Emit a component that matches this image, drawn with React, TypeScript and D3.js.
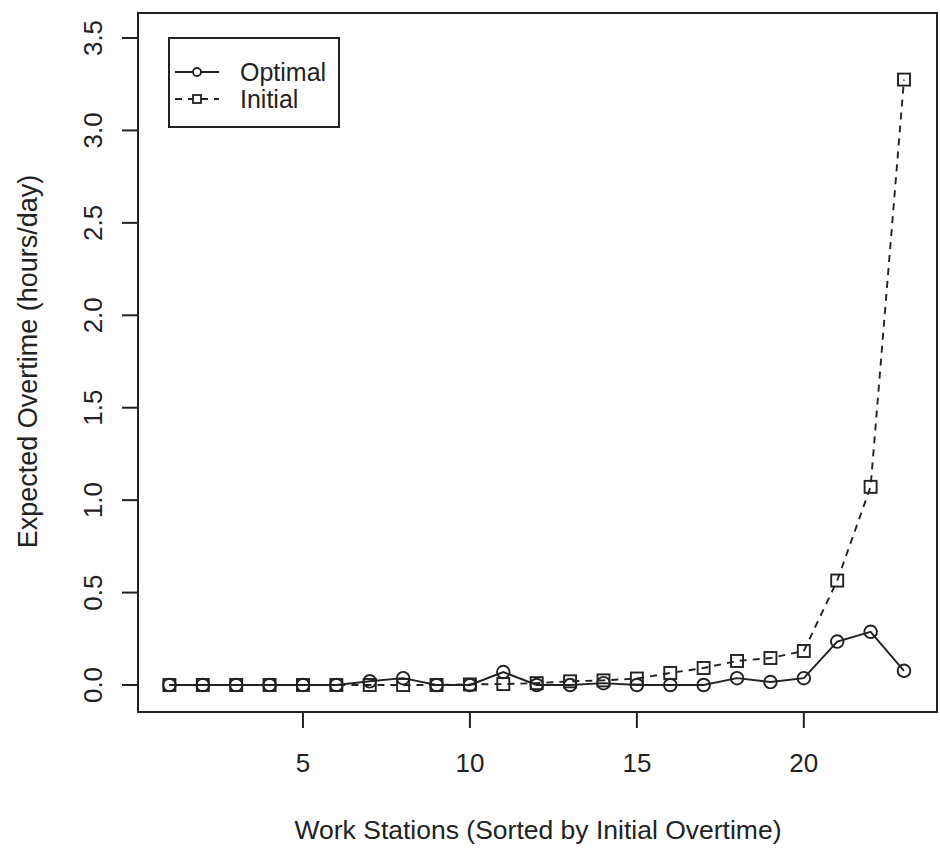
import React from "react";
import * as d3 from "d3";

const stations = d3.range(1, 24);
const optimal = [0, 0, 0, 0, 0, 0, 0.02, 0.037, 0, 0, 0.07, 0, 0, 0.01, 0, 0, 0, 0.037, 0.016, 0.037, 0.235, 0.288, 0.077];
const initial = [0, 0, 0, 0, 0, 0, 0, 0, 0, 0.003, 0.005, 0.01, 0.02, 0.025, 0.035, 0.065, 0.092, 0.13, 0.146, 0.184, 0.565, 1.072, 3.275];
const xTicks = [5, 10, 15, 20];
const yTicks = [0, 0.5, 1, 1.5, 2, 2.5, 3, 3.5];
const seriesNames = ["Optimal", "Initial"];

const W = 940;
const H = 856;
const box = { left: 138, right: 937, top: 13, bottom: 712 };
const FONT = "Liberation Sans, Arial, sans-serif";
const INK = "#222";

export default function App() {
  const x = d3.scaleLinear().domain([1, 23]).range([169.4, 904]);
  const y = d3.scaleLinear().domain([0, 3.5]).range([685, 38]);
  const line = d3
    .line<number>()
    .x((_, i) => x(stations[i]))
    .y((d) => y(d));

  return (
    <svg
      width={W}
      height={H}
      style={{ position: "absolute", left: 0, top: 0, background: "#fff" }}
      fontFamily={FONT}
    >
      <rect x={0} y={0} width={W} height={H} fill="#fff" />
      {/* plot frame */}
      <rect
        x={box.left}
        y={box.top}
        width={box.right - box.left}
        height={box.bottom - box.top}
        fill="none"
        stroke={INK}
        strokeWidth={2}
      />
      {/* x axis */}
      <g>
        {xTicks.map((t) => (
          <g key={t} transform={`translate(${x(t)},${box.bottom})`}>
            <line y1={0} y2={16} stroke={INK} strokeWidth={2} />
            <text y={60} textAnchor="middle" fontSize={26} fill={INK}>
              {t}
            </text>
          </g>
        ))}
        <text x={538} y={839} textAnchor="middle" fontSize={26.5} fill={INK}>
          Work Stations (Sorted by Initial Overtime)
        </text>
      </g>
      {/* y axis */}
      <g>
        {yTicks.map((t) => (
          <g key={t} transform={`translate(${box.left},${y(t)})`}>
            <line x1={0} x2={-16} stroke={INK} strokeWidth={2} />
            <text
              transform="translate(-36,0) rotate(-90)"
              textAnchor="middle"
              fontSize={26}
              fill={INK}
            >
              {d3.format(".1f")(t)}
            </text>
          </g>
        ))}
        <text
          transform={`translate(37,${y(1.75)}) rotate(-90)`}
          textAnchor="middle"
          fontSize={27}
          fill={INK}
        >
          Expected Overtime (hours/day)
        </text>
      </g>
      {/* initial series: dashed with squares */}
      <path
        d={line(initial) ?? ""}
        fill="none"
        stroke={INK}
        strokeWidth={1.9}
        strokeDasharray="7,6"
      />
      {initial.map((v, i) => (
        <rect
          key={`s${i}`}
          x={x(stations[i]) - 6}
          y={y(v) - 6}
          width={12}
          height={12}
          fill="none"
          stroke={INK}
          strokeWidth={1.9}
        />
      ))}
      {/* optimal series: solid with circles */}
      <path d={line(optimal) ?? ""} fill="none" stroke={INK} strokeWidth={1.9} />
      {optimal.map((v, i) => (
        <circle
          key={`c${i}`}
          cx={x(stations[i])}
          cy={y(v)}
          r={6.3}
          fill="none"
          stroke={INK}
          strokeWidth={1.9}
        />
      ))}
      {/* legend */}
      <g>
        <rect x={169} y={38} width={170} height={89} fill="#fff" stroke={INK} strokeWidth={2} />
        {seriesNames.map((name, i) => {
          const ly = 72 + i * 27;
          return (
            <g key={name}>
              <line
                x1={175}
                x2={219}
                y1={ly}
                y2={ly}
                stroke={INK}
                strokeWidth={1.8}
                strokeDasharray={i === 1 ? "7,6" : undefined}
              />
              {i === 0 ? (
                <circle cx={197} cy={ly} r={4} fill="#fff" stroke={INK} strokeWidth={1.8} />
              ) : (
                <rect x={193} y={ly - 4} width={8} height={8} fill="#fff" stroke={INK} strokeWidth={1.8} />
              )}
              <text x={240} y={ly + 9} fontSize={25} fill={INK}>
                {name}
              </text>
            </g>
          );
        })}
      </g>
    </svg>
  );
}
